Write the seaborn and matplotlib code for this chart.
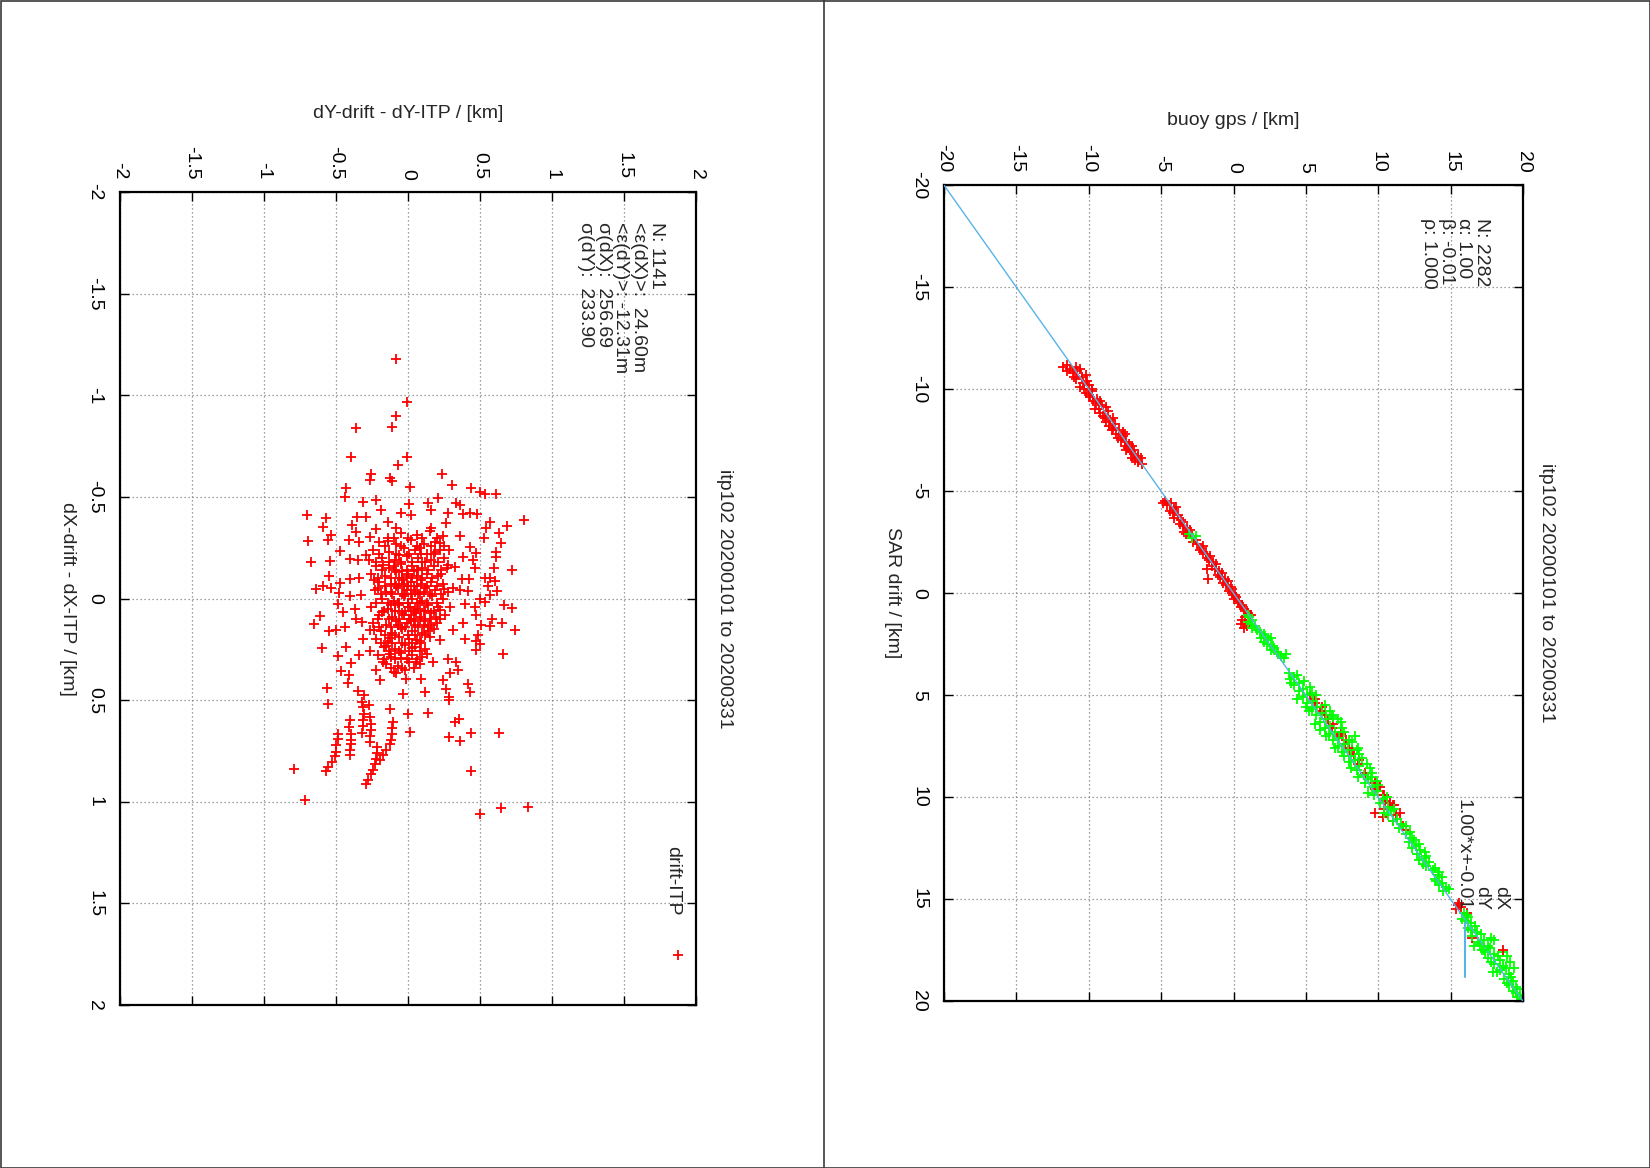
import numpy as np
import matplotlib
matplotlib.use("Agg")
import matplotlib.pyplot as plt
import seaborn as sns
from matplotlib.lines import Line2D
from matplotlib.patches import Rectangle
from matplotlib.ticker import MultipleLocator, FuncFormatter

# ---------------------------------------------------------------------------
# data
# ---------------------------------------------------------------------------
title = "itp102 20200101 to 20200331"

# SAR drift vs buoy gps, pairs of (SAR drift, buoy gps) in km
dx_pts = [
    (-11.2, -11.5), (-11.1, -10.9), (-11.0, -11.3), (-10.9, -10.8), (-10.8, -11.1),
    (-10.6, -10.5), (-10.5, -10.9), (-10.3, -10.4), (-10.2, -10.0), (-10.0, -10.3),
    (-9.9, -9.8), (-9.7, -10.0), (-9.5, -9.4), (-9.4, -9.7), (-9.2, -9.1),
    (-9.0, -9.3), (-8.9, -8.7), (-8.7, -9.0), (-8.5, -8.5), (-8.3, -8.2),
    (-8.2, -8.6), (-8.0, -7.9), (-7.8, -8.1), (-7.7, -7.6), (-7.5, -7.8),
    (-7.3, -7.2), (-7.2, -7.5), (-7.0, -6.9), (-6.9, -7.1), (-6.7, -6.6),
    (-6.5, -6.8), (-6.3, -6.3),
    (-11.0, -10.6), (-10.7, -10.2), (-10.4, -10.1), (-10.1, -10.6), (-9.8, -10.2),
    (-9.6, -9.9), (-9.3, -9.5), (-9.1, -8.8), (-8.8, -9.2), (-8.6, -8.3),
    (-8.4, -8.8), (-8.1, -8.3), (-7.9, -7.6), (-7.6, -8.0), (-7.4, -7.4),
    (-7.1, -7.3), (-6.8, -6.9), (-6.6, -7.0), (-6.4, -6.6), (-11.1, -11.8),
    (-10.9, -11.5), (-9.0, -9.6), (-8.0, -8.4), (-7.0, -7.4),
    (-10.6, -11.0), (-10.0, -9.8), (-9.4, -9.2), (-8.6, -8.9), (-7.8, -7.5),
    (-7.2, -7.0), (-6.6, -6.4),
    (-4.5, -4.7), (-4.4, -4.3), (-4.3, -4.6), (-4.1, -4.1), (-4.0, -4.4),
    (-3.8, -3.8), (-3.7, -4.1), (-3.5, -3.5), (-3.4, -3.7), (-3.2, -3.2),
    (-3.0, -3.4), (-2.8, -2.9), (-2.6, -2.6), (-2.4, -2.5), (-2.3, -2.1),
    (-2.1, -2.3), (-1.9, -1.9), (-1.7, -1.8), (-1.5, -1.4), (-1.3, -1.5),
    (-1.1, -1.0), (-0.9, -1.1), (-0.7, -0.6), (-0.5, -0.7), (-0.3, -0.2),
    (-0.1, -0.3), (0.1, 0.1), (0.3, 0.0), (0.5, 0.4), (0.7, 0.5),
    (0.9, 0.9), (1.2, 0.8), (1.5, 0.5), (1.7, 0.7), (1.1, 1.2),
    (-1.2, -1.85), (-0.7, -1.75),
    (-4.4, -4.9), (-4.2, -4.0), (-3.9, -4.2), (-3.6, -3.6), (-3.3, -3.5),
    (-3.1, -3.0), (-2.9, -3.3), (-2.5, -2.8), (-2.2, -2.2), (-2.0, -2.1),
    (-1.8, -1.6), (-1.6, -1.7), (-1.4, -1.2), (-1.2, -1.3), (-1.0, -0.8),
    (-0.8, -0.9), (-0.6, -0.4), (-0.4, -0.5), (-0.2, -0.1), (0.0, -0.1),
    (0.2, 0.2), (0.4, 0.3), (0.6, 0.6), (0.8, 0.7), (1.0, 1.0),
    (1.3, 0.6), (1.6, 0.9),
    (5.0, 5.3), (5.4, 5.6), (5.8, 6.0), (6.2, 6.5), (6.6, 6.8), (7.0, 7.2),
    (7.4, 7.7), (7.9, 8.3), (8.4, 8.6), (9.6, 9.8), (10.2, 10.5), (10.6, 10.4),
    (10.9, 11.2), (11.2, 11.0), (11.6, 11.9), (10.4, 11.1), (6.0, 6.3), (7.6, 8.0),
    (9.5, 10.1), (9.9, 10.3), (10.4, 11.0), (10.8, 9.8), (11.0, 10.3), (10.8, 11.5),
    (5.2, 5.6), (5.6, 6.1), (6.4, 6.9), (6.9, 7.4), (7.2, 7.8), (7.7, 8.2),
    (8.2, 8.7), (8.8, 9.1), (9.3, 9.8), (9.9, 10.4), (10.3, 10.8), (11.4, 11.7),
    (15.2, 15.6), (15.3, 15.5), (15.4, 15.7), (15.5, 15.4), (15.7, 16.1), (16.9, 16.5),
]

dy_pts = [
    (-2.9, -3.1), (-2.7, -2.9), (-2.8, -2.6),
    (1.1, 1.0), (1.3, 1.3), (1.4, 1.0), (1.6, 1.5), (1.7, 1.3), (1.9, 1.8),
    (2.0, 2.1), (2.2, 1.9), (2.3, 2.4), (2.5, 2.3), (2.6, 2.7), (2.8, 2.6),
    (2.9, 3.0), (3.1, 3.3), (3.0, 3.6),
    (1.2, 1.1), (1.5, 1.2), (1.8, 1.6), (2.1, 2.2), (2.4, 2.1), (2.7, 2.8),
    (3.0, 3.1), (3.2, 3.5), (2.2, 2.6),
    (3.9, 3.8), (4.1, 4.2), (4.2, 3.9), (4.4, 4.5), (4.5, 4.2), (4.7, 4.8),
    (4.8, 4.5), (5.0, 5.1), (5.1, 4.8), (5.3, 5.5), (5.4, 5.1), (5.6, 5.8),
    (5.7, 5.4), (5.9, 6.1), (6.0, 5.7), (6.2, 6.4), (6.3, 6.0), (6.5, 6.7),
    (6.6, 6.3), (6.8, 7.0), (6.9, 6.6), (7.1, 7.3), (7.2, 6.9), (7.4, 7.6),
    (7.5, 7.2), (7.7, 7.9), (7.8, 7.5), (8.0, 8.1), (8.2, 8.4), (8.3, 8.0),
    (8.5, 8.7), (8.7, 8.5), (8.9, 9.0), (9.1, 9.3), (9.3, 9.1), (9.5, 9.6),
    (9.7, 9.9), (9.9, 9.7), (10.1, 10.3), (10.3, 10.1), (10.5, 10.7), (10.7, 10.9),
    (10.9, 10.7), (11.1, 11.3), (11.3, 11.6), (11.5, 11.4), (11.8, 11.9), (12.0, 12.3),
    (12.2, 12.1), (12.4, 12.6), (12.6, 12.9), (12.8, 12.7), (13.0, 13.2), (13.2, 13.5),
    (13.4, 13.3), (13.6, 13.8), (13.8, 14.1), (14.0, 13.9), (14.2, 14.4), (14.4, 14.7),
    (14.6, 14.5),
    (5.5, 6.3), (6.1, 6.9), (6.8, 7.6), (7.3, 8.2), (5.2, 4.4), (6.4, 5.6),
    (8.1, 8.9), (4.6, 5.3), (7.0, 8.4), (7.6, 8.6), (6.3, 7.4), (8.6, 9.4),
    (5.8, 6.7), (6.6, 7.5), (7.2, 8.0), (7.9, 8.7), (8.4, 9.2), (6.0, 6.8),
    (5.0, 5.7), (4.3, 4.9), (7.7, 8.5), (8.8, 9.6), (9.2, 9.9), (9.4, 10.0),
    (5.6, 5.0), (6.7, 6.0), (7.6, 7.0), (8.6, 8.1), (9.8, 9.3), (10.8, 10.4),
    (4.0, 4.4), (4.9, 5.4), (9.0, 9.5), (10.0, 10.6), (10.6, 11.1), (11.2, 11.0),
    (11.7, 12.2), (12.1, 12.5), (12.5, 12.3), (12.9, 13.3), (13.3, 13.1), (13.7, 14.2),
    (14.1, 14.0), (14.5, 14.9), (11.4, 11.9), (12.7, 13.2), (13.5, 13.9), (14.3, 14.2),
    (4.4, 4.0), (5.8, 5.2), (7.0, 6.4), (8.0, 7.6), (9.0, 8.6), (6.2, 7.2),
    (12.3, 12.8), (13.1, 12.8), (13.9, 14.4),
    (15.7, 15.9), (15.9, 16.2), (16.0, 15.8), (16.2, 16.4), (16.4, 16.2), (16.6, 16.8),
    (16.8, 16.5), (17.0, 17.3), (17.2, 17.0), (17.4, 17.7), (17.5, 17.2), (17.7, 18.0),
    (17.9, 17.6), (18.0, 18.4), (18.2, 18.0), (18.4, 18.8), (18.5, 18.4), (18.7, 19.0),
    (18.9, 18.7), (19.0, 19.3), (19.2, 19.0), (19.4, 19.6), (19.5, 19.3), (19.7, 19.8),
    (19.8, 19.6), (17.6, 18.6), (18.1, 19.1), (17.3, 16.6), (18.6, 17.9), (16.9, 17.8),
    (19.9, 19.9),
    (15.8, 16.1), (16.1, 16.0), (16.3, 16.7), (16.5, 16.4), (16.7, 17.1), (17.1, 16.9),
    (17.3, 17.6), (17.6, 17.4), (17.8, 18.3), (18.1, 17.8), (18.3, 18.6), (18.6, 18.2),
    (18.8, 19.2), (19.1, 18.9), (19.3, 19.5), (19.6, 19.5), (17.0, 18.0), (18.4, 19.4),
    (17.8, 18.9),
]

fit_alpha = 1.00
fit_beta = -0.01
stats_sar = "N: 2282\nα: 1.00\nβ: -0.01\nρ: 1.000"

# drift - ITP, pairs of (dY-drift - dY-ITP, dX-drift - dX-ITP) in km
itp_err = [
    (-0.085, -1.177), (-0.004, -0.968), (-0.080, -0.898), (-0.108, -0.842), (-0.363, -0.840),
    (-0.398, -0.695), (-0.004, -0.698), (-0.069, -0.657), (-0.259, -0.611), (-0.266, -0.583),
    (-0.127, -0.591), (-0.108, -0.579), (0.012, -0.547), (-0.428, -0.542), (-0.440, -0.500),
    (-0.313, -0.473), (-0.219, -0.484), (0.007, -0.465), (-0.699, -0.410), (-0.567, -0.394),
    (-0.590, -0.353), (-0.354, -0.402), (-0.289, -0.402), (-0.185, -0.435), (-0.046, -0.422),
    (0.024, -0.410), (-0.386, -0.361), (-0.532, -0.312), (-0.694, -0.282), (-0.556, -0.287),
    (-0.363, -0.328), (-0.410, -0.287), (-0.474, -0.234), (-0.340, -0.279), (-0.266, -0.303),
    (-0.219, -0.340), (-0.139, -0.377), (-0.080, -0.345), (-0.673, -0.180), (-0.539, -0.185),
    (-0.405, -0.192), (-0.289, -0.213), (-0.347, -0.189), (-0.549, -0.110), (-0.474, -0.077),
    (-0.340, -0.103), (-0.405, -0.094), (-0.636, -0.049), (-0.590, -0.061), (-0.532, -0.054),
    (-0.479, -0.025), (-0.405, -0.011), (-0.324, -0.016), (-0.613, 0.087), (-0.655, 0.127),
    (-0.486, 0.025), (-0.451, 0.066), (-0.363, 0.099), (-0.317, 0.115), (-0.370, 0.054),
    (-0.549, 0.160), (-0.497, 0.153), (-0.440, 0.140), (-0.600, 0.246), (-0.432, 0.238),
    (-0.486, 0.284), (-0.313, 0.197), (-0.266, 0.156), (-0.398, 0.317), (-0.340, 0.279),
    (-0.462, 0.358), (-0.410, 0.378), (-0.417, 0.416), (-0.563, 0.438), (-0.347, 0.455),
    (-0.308, 0.476), (-0.266, 0.258), (-0.219, 0.353), (-0.197, 0.402), (-0.080, 0.369),
    (-0.035, 0.468), (-0.011, 0.394), (-0.174, 0.314), (0.058, 0.314), (-0.127, 0.271),
    (0.236, -0.611), (0.306, -0.558), (0.440, -0.542), (0.498, -0.525), (0.537, -0.514),
    (0.614, -0.512), (0.208, -0.493), (0.139, -0.468), (0.336, -0.468), (0.359, -0.460),
    (0.162, -0.435), (0.278, -0.419), (0.382, -0.415), (0.428, -0.422), (0.482, -0.415),
    (0.806, -0.386), (0.567, -0.377), (0.687, -0.356), (0.544, -0.345), (0.630, -0.323),
    (0.528, -0.296), (0.266, -0.372), (0.162, -0.345), (0.359, -0.307), (0.243, -0.307),
    (0.644, -0.271), (0.428, -0.254), (0.609, -0.230), (0.470, -0.222), (0.614, -0.205),
    (0.382, -0.205), (0.285, -0.238), (0.220, -0.271), (0.451, -0.189), (0.278, -0.164),
    (0.324, -0.156), (0.463, -0.148), (0.597, -0.148), (0.725, -0.139), (0.533, -0.103),
    (0.567, -0.099), (0.378, -0.094), (0.424, -0.094), (0.556, -0.061), (0.602, -0.087),
    (0.313, -0.054), (0.359, -0.044), (0.417, -0.037), (0.567, -0.016), (0.621, -0.037),
    (0.498, 0.000), (0.533, 0.017), (0.665, 0.033), (0.725, 0.049), (0.394, 0.025),
    (0.463, 0.041), (0.290, 0.041), (0.220, 0.058), (0.475, 0.082), (0.586, 0.103),
    (0.655, 0.120), (0.382, 0.120), (0.510, 0.132), (0.567, 0.136), (0.741, 0.153),
    (0.313, 0.156), (0.394, 0.197), (0.486, 0.181), (0.470, 0.209), (0.498, 0.225),
    (0.220, 0.205), (0.475, 0.255), (0.660, 0.274), (0.336, 0.312), (0.278, 0.300),
    (0.174, 0.312), (0.347, 0.353), (0.290, 0.366), (0.243, 0.402), (0.417, 0.422),
    (0.428, 0.460), (0.266, 0.443), (0.116, 0.460), (0.093, 0.394), (0.285, 0.485),
    (-0.556, 0.520), (-0.317, 0.509), (-0.271, 0.526), (-0.127, 0.542), (0.000, 0.570),
    (0.012, 0.657),
    (-0.486, 0.665), (-0.486, 0.690), (-0.497, 0.723), (-0.497, 0.755), (-0.509, 0.777),
    (-0.528, 0.805), (-0.556, 0.829), (-0.572, 0.849),
    (-0.405, 0.600), (-0.410, 0.632), (-0.398, 0.665), (-0.398, 0.698), (-0.398, 0.718),
    (-0.405, 0.744), (-0.405, 0.772),
    (-0.313, 0.534), (-0.306, 0.567), (-0.313, 0.600), (-0.313, 0.629), (-0.317, 0.660),
    (-0.266, 0.583), (-0.259, 0.619), (-0.259, 0.649), (-0.266, 0.677), (-0.266, 0.706),
    (-0.215, 0.731), (-0.215, 0.761), (-0.224, 0.788), (-0.231, 0.813), (-0.243, 0.842),
    (-0.254, 0.865), (-0.278, 0.892), (-0.294, 0.915),
    (-0.104, 0.608), (-0.108, 0.635), (-0.108, 0.665), (-0.115, 0.694), (-0.127, 0.718),
    (-0.150, 0.747), (-0.174, 0.768), (-0.197, 0.793),
    (-0.792, 0.841), (-0.717, 0.990),
    (0.285, 0.501), (0.139, 0.563), (0.324, 0.608), (0.354, 0.591), (0.435, 0.660),
    (0.630, 0.660), (0.282, 0.682), (0.364, 0.701), (0.435, 0.849), (0.498, 1.062),
    (0.649, 1.029), (0.833, 1.026),
    # dense core
    (-0.05, -0.32), (0.06, -0.31), (0.15, -0.33), (-0.14, -0.30),
    (-0.20, -0.28), (-0.08, -0.27), (0.02, -0.29), (0.11, -0.27), (0.19, -0.28),
    (-0.24, -0.24), (-0.13, -0.23), (-0.03, -0.25), (0.05, -0.24), (0.13, -0.22), (0.22, -0.24),
    (-0.18, -0.20), (-0.09, -0.19), (-0.01, -0.21), (0.07, -0.20), (0.16, -0.19), (0.25, -0.20), (-0.27, -0.19),
    (-0.22, -0.16), (-0.13, -0.15), (-0.05, -0.17), (0.03, -0.16), (0.10, -0.15), (0.18, -0.16), (0.27, -0.15),
    (-0.26, -0.12), (-0.16, -0.11), (-0.08, -0.13), (0.00, -0.12), (0.06, -0.11), (0.13, -0.12), (0.21, -0.11),
    (-0.20, -0.08), (-0.12, -0.07), (-0.04, -0.09), (0.02, -0.08), (0.09, -0.07), (0.16, -0.08), (0.24, -0.07),
    (-0.23, -0.04), (-0.15, -0.03), (-0.07, -0.05), (-0.01, -0.04), (0.05, -0.03), (0.12, -0.05), (0.19, -0.04), (0.28, -0.03),
    (-0.18, 0.00), (-0.10, 0.01), (-0.03, -0.01), (0.03, 0.00), (0.10, 0.01), (0.17, -0.01), (0.24, 0.00),
    (-0.26, 0.04), (-0.14, 0.05), (-0.06, 0.03), (0.00, 0.04), (0.07, 0.05), (0.14, 0.03), (0.21, 0.04),
    (-0.20, 0.08), (-0.11, 0.09), (-0.04, 0.07), (0.02, 0.08), (0.09, 0.09), (0.16, 0.07), (0.26, 0.08),
    (-0.24, 0.12), (-0.15, 0.13), (-0.08, 0.11), (-0.01, 0.12), (0.05, 0.13), (0.12, 0.11), (0.20, 0.12),
    (-0.19, 0.16), (-0.11, 0.17), (-0.04, 0.15), (0.03, 0.16), (0.10, 0.17), (0.18, 0.15),
    (-0.22, 0.20), (-0.14, 0.21), (-0.06, 0.19), (0.01, 0.20), (0.08, 0.21), (0.15, 0.19),
    (-0.17, 0.24), (-0.09, 0.25), (-0.02, 0.23), (0.05, 0.24), (0.12, 0.25),
    (-0.21, 0.28), (-0.12, 0.29), (-0.05, 0.27), (0.03, 0.28), (0.10, 0.29),
    (-0.15, 0.32), (-0.07, 0.33), (0.01, 0.31), (0.08, 0.32),
    (-0.10, 0.36), (-0.02, 0.35),
    (-0.06, -0.10), (0.04, -0.06), (-0.02, -0.02), (0.08, 0.02), (-0.09, 0.06),
    (0.01, 0.10), (0.11, 0.13), (-0.05, 0.14), (0.06, -0.14), (-0.12, -0.03),
    (-0.10, -0.30), (0.00, -0.30), (0.10, -0.30), (0.20, -0.30),
    (-0.16, -0.26), (-0.05, -0.26), (0.06, -0.26), (0.16, -0.26), (0.25, -0.26),
    (-0.20, -0.22), (-0.08, -0.22), (0.01, -0.22), (0.09, -0.22), (0.18, -0.22),
    (-0.22, -0.18), (-0.13, -0.18), (-0.05, -0.18), (0.03, -0.18), (0.12, -0.18), (0.21, -0.18),
    (-0.18, -0.14), (-0.09, -0.14), (-0.01, -0.14), (0.07, -0.14), (0.14, -0.14), (0.23, -0.14),
    (-0.21, -0.10), (-0.12, -0.10), (-0.04, -0.10), (0.03, -0.10), (0.10, -0.10), (0.17, -0.10),
    (-0.16, -0.06), (-0.08, -0.06), (0.00, -0.06), (0.06, -0.06), (0.13, -0.06), (0.20, -0.06),
    (-0.19, -0.02), (-0.11, -0.02), (-0.04, -0.02), (0.02, -0.02), (0.08, -0.02), (0.15, -0.02), (0.23, -0.02),
    (-0.22, 0.02), (-0.14, 0.02), (-0.06, 0.02), (0.00, 0.02), (0.06, 0.02), (0.13, 0.02), (0.20, 0.02),
    (-0.17, 0.06), (-0.09, 0.06), (-0.02, 0.06), (0.04, 0.06), (0.11, 0.06), (0.18, 0.06),
    (-0.21, 0.10), (-0.13, 0.10), (-0.06, 0.10), (0.02, 0.10), (0.08, 0.10), (0.15, 0.10), (0.22, 0.10),
    (-0.20, 0.14), (-0.12, 0.14), (-0.02, 0.14), (0.07, 0.14), (0.14, 0.14),
    (-0.16, 0.18), (-0.09, 0.18), (0.00, 0.18), (0.05, 0.18), (0.12, 0.18),
    (-0.19, 0.22), (-0.11, 0.22), (-0.04, 0.22), (0.03, 0.22), (0.09, 0.22),
    (-0.13, 0.26), (-0.06, 0.26), (0.01, 0.26), (0.08, 0.26),
    (-0.17, 0.30), (-0.09, 0.30), (-0.01, 0.30), (0.06, 0.30),
    (-0.12, 0.34), (-0.04, 0.34), (0.04, 0.34),
    (-0.03, -0.06), (0.02, -0.04), (0.07, -0.02), (-0.07, 0.02), (0.00, 0.02), (0.05, 0.05),
    (-0.03, 0.08), (0.04, 0.11), (-0.09, -0.07), (0.09, -0.09), (-0.01, -0.11), (0.12, 0.06),
    (-0.137, -0.283), (0.083, -0.247), (-0.062, -0.213), (0.187, -0.231), (-0.171, -0.167),
    (0.041, -0.133), (0.228, -0.122), (-0.238, -0.089), (-0.027, -0.073), (0.114, -0.031),
    (-0.116, 0.032), (0.053, 0.071), (0.192, 0.089), (-0.233, 0.153), (-0.071, 0.128),
    (0.136, 0.162), (-0.153, 0.236), (0.064, 0.203), (-0.049, 0.291), (0.131, 0.272),
    (-0.181, 0.068), (0.252, -0.046), (-0.094, -0.158), (0.017, 0.043), (-0.043, -0.137),
    (0.098, -0.181), (-0.209, -0.051), (0.162, 0.128), (-0.124, 0.196), (0.028, 0.246),
]
stats_itp = ("N: 1141\n<ε(dX)>:  24.60m\n<ε(dY)>: -12.31m\n"
             "σ(dX):  256.69\nσ(dY):  233.90")

sar_dx = np.array(dx_pts)
sar_dy = np.array(dy_pts)
err = np.array(itp_err)

# ---------------------------------------------------------------------------
# style
# ---------------------------------------------------------------------------
sns.set_style("white")
plt.rcParams["font.family"] = ["Liberation Sans", "DejaVu Sans"]
plt.rcParams["axes.unicode_minus"] = False
FS = 14
ROT = 270
MS = 62
MLW = 1.3

fig = plt.figure(figsize=(16.5, 11.68), dpi=100)
W, H = 1650.0, 1168.0


def px_axes(x0, y0, x1, y1):
    return fig.add_axes([x0 / W, 1 - y1 / H, (x1 - x0) / W, (y1 - y0) / H])


def style(ax, lim, step):
    ax.set_xlim(-lim, lim)
    ax.set_ylim(lim, -lim)
    ax.xaxis.set_major_locator(MultipleLocator(step))
    ax.yaxis.set_major_locator(MultipleLocator(step))
    fmt = FuncFormatter(lambda v, p: f"{v:g}")
    ax.xaxis.set_major_formatter(fmt)
    ax.yaxis.set_major_formatter(fmt)
    ax.set_xlabel("")
    ax.set_ylabel("")
    ax.tick_params(which="both", direction="in", length=6.5, width=1.0,
                   top=True, bottom=True, left=True, right=True,
                   labeltop=True, labelbottom=False, labelleft=True,
                   labelright=False, labelsize=FS, colors="black")
    ax.tick_params(axis="x", pad=9, labelrotation=ROT)
    ax.tick_params(axis="y", pad=12, labelrotation=ROT)
    for t in ax.get_yticklabels():
        t.set_va("center")
    ax.set_axisbelow(True)
    ax.grid(True, color="#808080", linestyle=(0, (1, 2.2)), linewidth=0.9)
    for s in ax.spines.values():
        s.set_linewidth(1.6)
        s.set_color("black")


# ---- right panel: SAR drift vs buoy gps ----
ax_r = px_axes(944, 185, 1523, 1001)
sns.scatterplot(x=sar_dx[:, 1], y=sar_dx[:, 0], marker="+", s=MS, color="#ff0000",
                linewidth=MLW, ax=ax_r, zorder=2)
sns.scatterplot(x=sar_dy[:, 1], y=sar_dy[:, 0], marker="+", s=MS, color="#00ff00",
                linewidth=MLW, ax=ax_r, zorder=2)
sar_line = np.array([-20.0, 20.0])
ax_r.plot(fit_alpha * sar_line + fit_beta, sar_line, color="#56b4e9", lw=1.0, zorder=3)
style(ax_r, 20, 5)

ax_r.text(0.5, 1.079, "buoy gps / [km]", transform=ax_r.transAxes,
          ha="center", va="center", fontsize=FS)
ax_r.text(-0.0896, 0.5, "SAR drift / [km]", transform=ax_r.transAxes,
          ha="center", va="center", rotation=ROT, fontsize=FS)
ax_r.text(1.041, 0.5, title, transform=ax_r.transAxes,
          ha="center", va="center", rotation=ROT, fontsize=FS)
ax_r.text(0.943, 0.959, stats_sar, transform=ax_r.transAxes, ha="right", va="top",
          rotation=ROT, fontsize=FS, linespacing=1.05, multialignment="left")

# key
key_r = [("dX", "#ff0000", "+"), ("dY", "#00ff00", "+"), ("1.00*x+-0.01", "#56b4e9", "-")]
for i, (lab, col, kind) in enumerate(key_r):
    kx = 0.965 - i * 0.0325
    ax_r.text(kx + 0.011, 0.111, lab, transform=ax_r.transAxes, ha="right", va="bottom",
              rotation=ROT, fontsize=FS)
    if kind == "+":
        ax_r.plot([kx], [0.062], marker="+", ms=7.8, mew=MLW, color=col,
                  transform=ax_r.transAxes, zorder=4)
    else:
        ax_r.plot([kx, kx], [0.095, 0.029], color=col, lw=1.5,
                  transform=ax_r.transAxes, zorder=4)

# ---- left panel: drift - ITP ----
ax_l = px_axes(120, 192, 696, 1005)
sns.scatterplot(x=err[:, 0], y=err[:, 1], marker="+", s=MS, color="#ff0000",
                linewidth=MLW, ax=ax_l, zorder=2)
style(ax_l, 2, 0.5)

ax_l.text(0.5, 1.097, "dY-drift - dY-ITP / [km]", transform=ax_l.transAxes,
          ha="center", va="center", fontsize=FS)
ax_l.text(-0.0908, 0.5, "dX-drift - dX-ITP / [km]", transform=ax_l.transAxes,
          ha="center", va="center", rotation=ROT, fontsize=FS)
ax_l.text(1.049, 0.5, title, transform=ax_l.transAxes,
          ha="center", va="center", rotation=ROT, fontsize=FS)
ax_l.text(0.9457, 0.963, stats_itp, transform=ax_l.transAxes, ha="right", va="top",
          rotation=ROT, fontsize=FS, linespacing=1.05, multialignment="left")
ax_l.text(0.975, 0.110, "drift-ITP", transform=ax_l.transAxes, ha="right", va="bottom",
          rotation=ROT, fontsize=FS)
ax_l.plot([0.968], [0.061], marker="+", ms=7.8, mew=MLW, color="#ff0000",
          transform=ax_l.transAxes, zorder=4)

# page frames
fig.add_artist(Rectangle((0.5 / W, 0.5 / H), (W - 1) / W, (H - 1) / H,
                         transform=fig.transFigure, fill=False,
                         edgecolor="#3a3a3a", lw=1.2))
fig.add_artist(Line2D([824 / W, 824 / W], [0, 1], transform=fig.transFigure,
                      color="#3a3a3a", lw=1.2))

fig.savefig("out.png", dpi=100)
